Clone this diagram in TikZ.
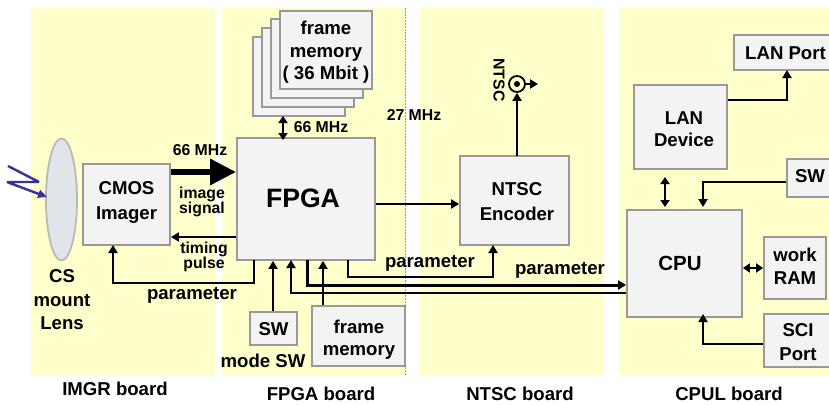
\documentclass[tikz,border=0pt]{standalone}
\usepackage{fontspec}
\setmainfont{Liberation Sans}
\usetikzlibrary{calc, arrows.meta}
\definecolor{boardyellow}{HTML}{FFFFCC}
\definecolor{chipgray}{HTML}{999999}
\definecolor{chipfill}{HTML}{F3F3F3}
\definecolor{lensfill}{HTML}{E1E5EA}
\definecolor{raycolor}{HTML}{333399}
% text of a box, moved #1 right and #2 down from the box centre
\newcommand{\boxtext}[3]{\raisebox{\dimexpr-#2-0.35em\relax}[0pt][0pt]{\hspace*{#1}\begin{tabular}{@{}c@{}}#3\end{tabular}\hspace*{-#1}}}
\tikzset{
    chip/.style={draw=chipgray, fill=chipfill, line width=1.8pt, align=center, inner sep=0pt, font=\fontsize{18.6}{22.5}\selectfont\bfseries},
    wire/.style={line width=2.2pt, -{Triangle[length=8pt,width=9pt]}},
    thinwire/.style={line width=1.8pt, -{Triangle[length=8pt,width=9pt]}},
    bothwire/.style={line width=2.2pt, {Triangle[length=7pt,width=9pt]}-{Triangle[length=7pt,width=9pt]}},
    smalltxt/.style={align=center, inner sep=0pt, font=\fontsize{15.8}{15}\selectfont\bfseries},
    bigtxt/.style={align=center, inner sep=0pt, font=\fontsize{18.6}{23.5}\selectfont\bfseries}
}

\begin{document}
\begin{tikzpicture}[x=1pt,y=-1pt]
    \clip (0,0) rectangle (829,404);
    \fill[white] (0,0) rectangle (829,404);
    \foreach \l/\r in {31/215,222/405,420/604,619/829}{
        \fill[boardyellow] (\l,8) rectangle (\r,375);
    }
    \draw[chipgray, line width=0.5pt, densely dotted] (405,8)--(405,375);

    % lens and incoming light
    \draw[fill=lensfill, draw=gray!55, line width=1.8pt] (61.5,199.5) ellipse (15.5 and 61);
    \draw[raycolor, line width=2.4pt, line join=bevel, -{Triangle[length=9pt,width=8pt]}] (8,166)--(39,182)--(7,182)--(47,197);

    % boxes
    \foreach \l/\t in {253/37,262/28,271/19}{
        \draw[chip] (\l,\t) rectangle ++(92,79);
    }
    \node[chip, minimum width=92pt, minimum height=78pt] (framestack) at (326,50) {\boxtext{0pt}{0.5pt}{frame\\memory\\( 36 Mbit )}};
    \coordinate (stackbottom) at (283,116);
    \node[chip, minimum width=87pt, minimum height=81pt] (cmos) at (126.5,204.5) {\boxtext{0pt}{-4pt}{CMOS\\[2.5pt]Imager}};
    \node[chip, minimum width=138pt, minimum height=122pt, font=\fontsize{26.6}{30}\selectfont\bfseries] (fpga) at (306,199) {\boxtext{-3pt}{-1pt}{FPGA}};
    \node[chip, minimum width=47pt, minimum height=33pt] (modesw) at (273.5,328.5) {\boxtext{0pt}{0.5pt}{SW}};
    \node[chip, minimum width=93pt, minimum height=60pt] (framemem) at (358.5,336) {\boxtext{0.5pt}{2pt}{frame\\memory}};
    \node[chip, minimum width=109pt, minimum height=89pt] (encoder) at (514.5,200.5) {\boxtext{2.5pt}{1pt}{NTSC\\[2.5pt]Encoder}};
    \node[chip, minimum width=103pt, minimum height=35pt] (lanport) at (785.5,52.5) {\boxtext{0pt}{0pt}{LAN Port}};
    \node[chip, minimum width=93pt, minimum height=84pt] (landevice) at (680.5,127) {\boxtext{3.5pt}{2pt}{LAN\\Device}};
    \node[chip, minimum width=46pt, minimum height=38pt] (cpusw) at (810,178) {\boxtext{0pt}{-2pt}{SW}};
    \node[chip, minimum width=115pt, minimum height=107pt, font=\fontsize{20.5}{24}\selectfont\bfseries] (cpu) at (684.5,263.5) {\boxtext{-4.5pt}{0.5pt}{CPU}};
    \node[chip, minimum width=62pt, minimum height=62pt] (workram) at (795,268) {\boxtext{0pt}{-1.5pt}{work\\[0.5pt]RAM}};
    \node[chip, minimum width=68pt, minimum height=53pt] (sciport) at (798,340.5) {\boxtext{0pt}{1.5pt}{SCI\\[1.5pt]Port}};

    \node[circle, draw=black, fill=boardyellow, line width=1.8pt, minimum size=16pt, inner sep=0pt] (jack) at (517,84) {};
    \fill (jack.center) circle (3);
    \coordinate (jackout) at (538,84);

    % connectors
    \draw[line width=6pt, -{Triangle[length=26pt,width=25pt]}] (cmos.east |- 0,172)--(fpga.west |- 0,172);
    \draw[wire] (fpga.west |- 0,237)--(cmos.east |- 0,237);
    \draw[thinwire] (254,260)--(254,283)--(113,283)--(113,245);
    \draw[wire] (modesw.north -| 273,0)--(fpga.south -| 273,0);
    \draw[wire] (framemem.north -| 323,0)--(fpga.south -| 323,0);
    \draw[thinwire] (cpu.west |- 0,293)--(291,293)--(291,260);
    \draw[line width=3pt, -{Triangle[length=8pt,width=9pt]}] (307,260)--(307,285)--(cpu.west |- 0,285);
    \draw[thinwire] (348,260)--(348,277)--(493,277)--(493,245);
    \draw[wire] (fpga.east |- 0,204)--(encoder.west |- 0,204);
    \draw[wire] (517,156)--(jack.south);
    \draw[wire] (jack.east)--(jackout);
    \draw[bothwire] (stackbottom)--(283,140);
    \draw[wire] (landevice.east |- 0,100)--(787,100)--(787,70);
    \draw[bothwire] (665,177)--(665,207);
    \draw[wire] (cpusw.west |- 0,182)--(703,182)--(703,207);
    \draw[bothwire] (cpu.east |- 0,268)--(workram.west |- 0,268);
    \draw[wire] (sciport.west |- 0,344)--(703,344)--(703,314);

    % labels
    \node[smalltxt] (clocka) at (200,150) {66 MHz};
    \node[smalltxt] (clockb) at (321,127) {66 MHz};
    \node[smalltxt] (clockc) at (414,115) {27 MHz};
    \node[smalltxt] (imagesig) at (202,202) {image\\signal};
    \node[smalltxt] (timingp) at (204,257) {timing\\pulse};
    \node[bigtxt] (lensname) at (62,300) {CS\\mount\\Lens};
    \node[bigtxt] (parama) at (192,295) {parameter};
    \node[bigtxt] (paramb) at (430,263) {parameter};
    \node[bigtxt] (paramc) at (560,270) {parameter};
    \node[bigtxt] (modename) at (263,361) {mode SW};
    \node[smalltxt, rotate=-90] (jackname) at (499,80) {NTSC};
    \node[bigtxt] (imgrname) at (115,389) {IMGR board};
    \node[bigtxt] (fpganame) at (321,394) {FPGA board};
    \node[bigtxt] (ntscname) at (520,394) {NTSC board};
    \node[bigtxt] (cpulname) at (729,394) {CPUL board};
\end{tikzpicture}
\end{document}
